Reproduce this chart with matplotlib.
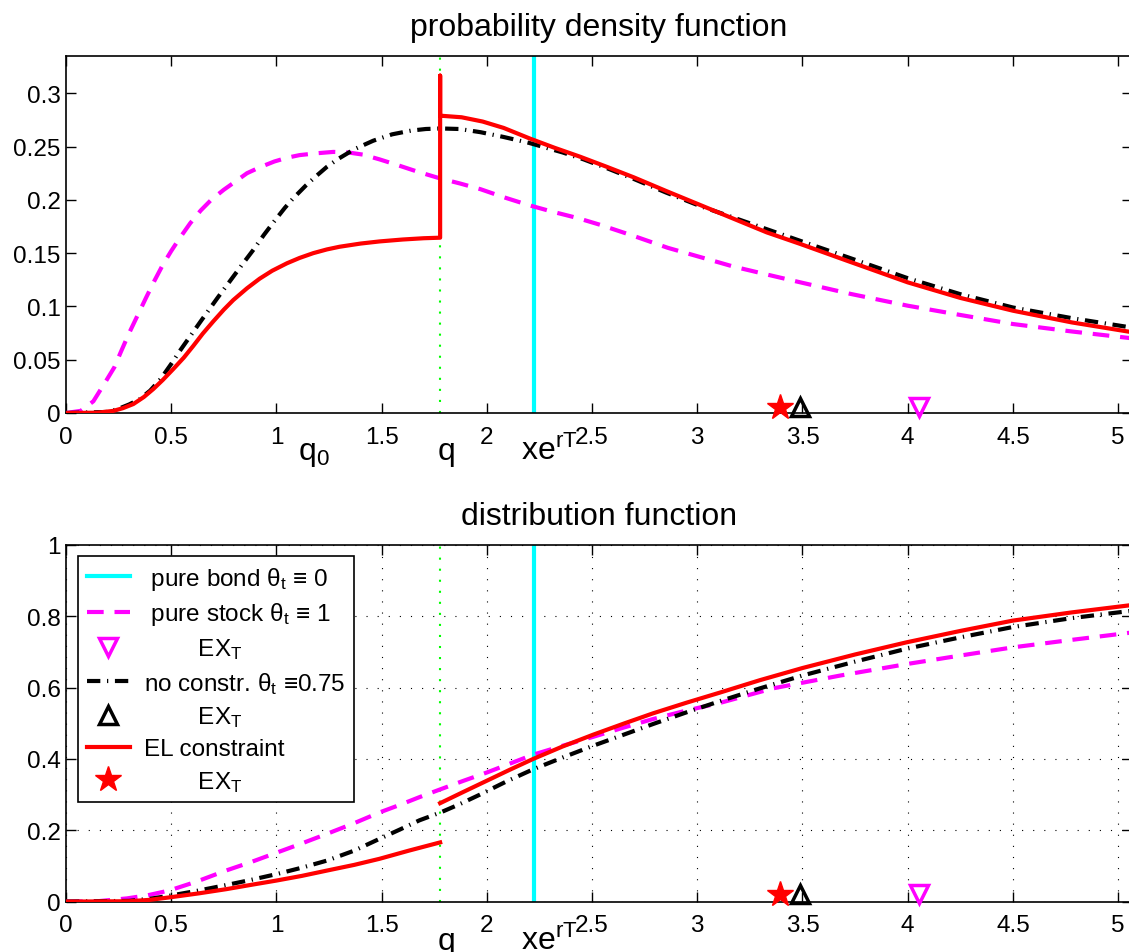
import matplotlib
matplotlib.use('Agg')
import matplotlib.pyplot as plt
from matplotlib.lines import Line2D

plt.rcParams['font.family'] = ['Liberation Sans', 'DejaVu Sans']
plt.rcParams['mathtext.fontset'] = 'custom'
plt.rcParams['mathtext.rm'] = 'Liberation Sans'
plt.rcParams['mathtext.it'] = 'Liberation Sans:italic'
plt.rcParams['mathtext.bf'] = 'Liberation Sans:bold'

# ---------------- data ----------------
q_level = 1.778          # q (green dotted)
q0_pos = 1.103           # position of q_0 label
xert = 2.225             # x e^{rT} (cyan)
ex_stock = 4.055         # E X_T pure stock
ex_noconstr = 3.49       # E X_T no constraint
ex_el = 3.393            # E X_T EL constraint

# pdf: pure stock (magenta dashed)
pdf_stock_x = [0, 0.07, 0.13, 0.19, 0.23, 0.26, 0.30, 0.34, 0.38, 0.42, 0.46, 0.50, 0.54,
               0.59, 0.64, 0.69, 0.75, 0.80, 0.86, 0.92, 0.99, 1.05, 1.11, 1.19, 1.27, 1.34,
               1.41, 1.49, 1.57, 1.67, 1.78, 1.87, 1.97, 2.08, 2.20, 2.31, 2.43, 2.54, 2.70,
               2.86, 3.02, 3.17, 3.33, 3.49, 3.73, 4.00, 4.25, 4.50, 4.78, 5.07]
pdf_stock_y = [0, 0.002, 0.011, 0.030, 0.043, 0.057, 0.075, 0.0915, 0.108, 0.124, 0.139,
               0.152, 0.164, 0.178, 0.190, 0.200, 0.2095, 0.2165, 0.225, 0.2305, 0.236,
               0.2395, 0.242, 0.2437, 0.245, 0.2445, 0.2425, 0.238, 0.233, 0.2265, 0.220,
               0.2155, 0.210, 0.2025, 0.195, 0.189, 0.183, 0.1765, 0.166, 0.155, 0.146,
               0.1375, 0.130, 0.1226, 0.1117, 0.1007, 0.092, 0.0835, 0.0765, 0.070]

# pdf: no constraint (black dash-dot)
pdf_noc_x = [0, 0.20, 0.25, 0.30, 0.35, 0.40, 0.45, 0.50, 0.54, 0.59, 0.64, 0.68, 0.72,
             0.78, 0.84, 0.89, 0.94, 0.99, 1.04, 1.08, 1.14, 1.19, 1.24, 1.29, 1.37, 1.46,
             1.55, 1.64, 1.71, 1.78, 1.87, 1.97, 2.08, 2.20, 2.36, 2.46, 2.58, 2.70, 2.85,
             3.01, 3.17, 3.33, 3.49, 3.71, 4.00, 4.25, 4.50, 4.78, 5.07]
pdf_noc_y = [0, 0.001, 0.004, 0.008, 0.013, 0.021, 0.032, 0.046, 0.058, 0.072, 0.086,
             0.097, 0.108, 0.124, 0.140, 0.153, 0.167, 0.180, 0.1925, 0.2015, 0.2135,
             0.2225, 0.231, 0.238, 0.2475, 0.2555, 0.2615, 0.265, 0.2665, 0.267, 0.2665,
             0.2635, 0.259, 0.2535, 0.2445, 0.238, 0.229, 0.2195, 0.207, 0.1945, 0.1835,
             0.1725, 0.1615, 0.1465, 0.1265, 0.1115, 0.099, 0.089, 0.080]

# pdf: EL constraint (red solid), with jump at q
pdf_el_x = [0, 0.15, 0.225, 0.27, 0.32, 0.37, 0.415, 0.46, 0.51, 0.56, 0.605, 0.65, 0.70,
            0.75, 0.795, 0.86, 0.92, 0.98, 1.05, 1.11, 1.175, 1.24, 1.30, 1.40, 1.49, 1.60,
            1.70, 1.778, 1.778, 1.778, 1.88, 1.98, 2.08, 2.205, 2.32, 2.443, 2.57, 2.70,
            2.85, 3.01, 3.17, 3.33, 3.49, 3.71, 4.00, 4.25, 4.50, 4.78, 5.07]
pdf_el_y = [0, 0.0003, 0.002, 0.0045, 0.0084, 0.015, 0.0225, 0.031, 0.0413, 0.052, 0.063,
            0.0745, 0.086, 0.097, 0.106, 0.117, 0.126, 0.1335, 0.1405, 0.1455, 0.150,
            0.1535, 0.156, 0.159, 0.161, 0.1628, 0.164, 0.1645, 0.3166, 0.279, 0.2775,
            0.2735, 0.2675, 0.2575, 0.249, 0.2405, 0.231, 0.221, 0.2085, 0.1955, 0.1825,
            0.1695, 0.1586, 0.143, 0.1226, 0.108, 0.096, 0.085, 0.0757]

# cdf: pure stock
cdf_stock_x = [0, 0.15, 0.29, 0.39, 0.49, 0.62, 0.76, 0.88, 1.00, 1.12, 1.24, 1.37, 1.49,
               1.59, 1.68, 1.78, 1.89, 2.00, 2.11, 2.22, 2.36, 2.505, 2.65, 2.79, 2.95,
               3.107, 3.36, 3.68, 3.994, 4.25, 4.50, 4.78, 5.07]
cdf_stock_y = [0, 0.001, 0.009, 0.018, 0.031, 0.056, 0.087, 0.111, 0.137, 0.163, 0.19,
               0.22, 0.25, 0.272, 0.293, 0.315, 0.339, 0.362, 0.387, 0.412, 0.437, 0.462,
               0.488, 0.512, 0.536, 0.557, 0.598, 0.634, 0.666, 0.690, 0.713, 0.734, 0.755]

# cdf: no constraint
cdf_noc_x = [0, 0.30, 0.40, 0.494, 0.63, 0.763, 0.88, 1.00, 1.12, 1.24, 1.37, 1.49, 1.59,
             1.68, 1.78, 1.87, 1.967, 2.09, 2.22, 2.36, 2.505, 2.65, 2.79, 2.95, 3.107,
             3.298, 3.50, 3.75, 3.994, 4.25, 4.50, 4.78, 5.07]
cdf_noc_y = [0, 0.002, 0.008, 0.0166, 0.031, 0.0466, 0.061, 0.077, 0.095, 0.115, 0.143,
             0.176, 0.203, 0.228, 0.25, 0.273, 0.30, 0.336, 0.371, 0.404, 0.437, 0.468,
             0.498, 0.531, 0.562, 0.598, 0.634, 0.673, 0.709, 0.741, 0.770, 0.795, 0.816]

# cdf: EL constraint, two branches (jump at q)
cdf_el_lo_x = [0, 0.30, 0.40, 0.494, 0.63, 0.763, 0.88, 1.00, 1.12, 1.24, 1.37, 1.49, 1.63,
               1.778]
cdf_el_lo_y = [0, 0.001, 0.005, 0.012, 0.023, 0.035, 0.047, 0.059, 0.072, 0.087, 0.103,
               0.12, 0.143, 0.166]
cdf_el_hi_x = [1.778, 1.89, 2.00, 2.11, 2.22, 2.36, 2.505, 2.65, 2.79, 2.95, 3.107, 3.298,
               3.50, 3.75, 3.994, 4.25, 4.50, 4.78, 5.07]
cdf_el_hi_y = [0.276, 0.308, 0.339, 0.370, 0.40, 0.435, 0.468, 0.499, 0.528, 0.558, 0.586,
               0.621, 0.655, 0.693, 0.727, 0.759, 0.788, 0.811, 0.832]

# ticks
xticks = [0, 0.5, 1, 1.5, 2, 2.5, 3, 3.5, 4, 4.5, 5]
xtick_labels = ['0', '0.5', '1', '1.5', '2', '2.5', '3', '3.5', '4', '4.5', '5']
yticks_pdf = [0, 0.05, 0.1, 0.15, 0.2, 0.25, 0.3]
ytick_labels_pdf = ['0', '0.05', '0.1', '0.15', '0.2', '0.25', '0.3']
yticks_cdf = [0, 0.2, 0.4, 0.6, 0.8, 1]
ytick_labels_cdf = ['0', '0.2', '0.4', '0.6', '0.8', '1']

titles = ['probability density function', 'distribution function']
legend_labels = [' pure bond θ$_\\mathrm{t}$ ≡ 0',
                 ' pure stock θ$_\\mathrm{t}$ ≡ 1',
                 '        EX$_\\mathrm{T}$',
                 'no constr. θ$_\\mathrm{t}$ ≡0.75',
                 '        EX$_\\mathrm{T}$',
                 'EL constraint',
                 '        EX$_\\mathrm{T}$']

# ---------------- styles ----------------
CYAN = '#00ffff'
MAG = '#ff00ff'
RED = '#ff0000'
GREEN = '#00ff00'
LW = 3.0
mag_dash = (0, (4.0, 2.6))
blk_dashdot = (0, (3.2, 1.6, 0.3, 1.6))
green_dot = (0, (1, 4.3))
FS = 17.5

W, H = 1129, 953
fig = plt.figure(figsize=(W / 100, H / 100), dpi=100)
ax_left = 66 / W
ax_w = (1132 - 66) / W
ax1 = fig.add_axes([ax_left, (H - 414) / H, ax_w, (414 - 57) / H])
ax2 = fig.add_axes([ax_left, (H - 902.6) / H, ax_w, (902.6 - 546) / H])

xmax = 5.066


def style_axes(ax, yt, ytl, ymax):
    ax.set_xlim(0, xmax)
    ax.set_ylim(0, ymax)
    ax.set_xticks(xticks)
    ax.set_xticklabels(xtick_labels)
    ax.set_yticks(yt)
    ax.set_yticklabels(ytl)
    ax.tick_params(direction='in', top=True, right=True, length=7, width=1.0,
                   labelsize=FS, color='black')
    ax.tick_params(axis='x', pad=9)
    ax.tick_params(axis='y', pad=4)
    for s in ax.spines.values():
        s.set_linewidth(1.2)
        s.set_color('black')


def markers(ax, yv):
    ax.plot([ex_stock], [yv], marker='v', ms=13, mfc='none', mec=MAG, mew=2.5,
            linestyle='none', clip_on=False, zorder=6)
    ax.plot([ex_noconstr], [yv], marker='^', ms=13, mfc='none', mec='black', mew=2.5,
            linestyle='none', clip_on=False, zorder=6)
    ax.plot([ex_el], [yv], marker='*', ms=19, mfc=RED, mec=RED, mew=1,
            linestyle='none', clip_on=False, zorder=6)


# ----- top: pdf -----
style_axes(ax1, yticks_pdf, ytick_labels_pdf, 0.335)
ax1.axvline(xert, color=CYAN, lw=LW, zorder=2)
ax1.plot(pdf_stock_x, pdf_stock_y, color=MAG, lw=LW, linestyle=mag_dash, zorder=3)
ax1.plot(pdf_noc_x, pdf_noc_y, color='black', lw=LW, linestyle=blk_dashdot, zorder=4)
ax1.plot(pdf_el_x, pdf_el_y, color=RED, lw=LW, zorder=5)
ax1.axvline(q_level, color=GREEN, lw=1.5, linestyle=green_dot, zorder=1)
markers(ax1, 0.006)
ax1.set_title(titles[0], fontsize=23, pad=15)

# ----- bottom: cdf -----
style_axes(ax2, yticks_cdf, ytick_labels_cdf, 1.0)
ax2.grid(True, color='black', lw=0.8, linestyle=(0, (1, 9)))
ax2.set_axisbelow(True)
ax2.axvline(xert, color=CYAN, lw=LW, zorder=2)
ax2.plot(cdf_stock_x, cdf_stock_y, color=MAG, lw=LW, linestyle=mag_dash, zorder=3)
ax2.plot(cdf_noc_x, cdf_noc_y, color='black', lw=LW, linestyle=blk_dashdot, zorder=4)
ax2.plot(cdf_el_lo_x, cdf_el_lo_y, color=RED, lw=LW, zorder=5)
ax2.plot(cdf_el_hi_x, cdf_el_hi_y, color=RED, lw=LW, zorder=5)
ax2.axvline(q_level, color=GREEN, lw=1.5, linestyle=green_dot, zorder=1)
markers(ax2, 0.02)
ax2.set_title(titles[1], fontsize=23, pad=15)

# ----- special x labels -----
for ax, yb in ((ax1, -0.128), (ax2, -0.134)):
    tr = ax.get_xaxis_transform()
    if ax is ax1:
        ax.text(q0_pos, yb, r'q$_\mathrm{0}$', transform=tr, fontsize=23, ha='left',
                va='baseline', clip_on=False)
    ax.text(q_level - 0.013, yb, 'q', transform=tr, fontsize=23, ha='left',
            va='baseline', clip_on=False)
    ax.text(2.16, yb, r'xe$^\mathrm{rT}$', transform=tr, fontsize=23, ha='left',
            va='baseline', clip_on=False)

# ----- legend -----
handles = [
    Line2D([], [], color=CYAN, lw=LW),
    Line2D([], [], color=MAG, lw=LW, linestyle=mag_dash),
    Line2D([], [], color=MAG, marker='v', ms=13, mfc='none', mew=2.5, linestyle='none'),
    Line2D([], [], color='black', lw=LW, linestyle=blk_dashdot),
    Line2D([], [], color='black', marker='^', ms=13, mfc='none', mew=2.5, linestyle='none'),
    Line2D([], [], color=RED, lw=LW),
    Line2D([], [], color=RED, marker='*', ms=19, linestyle='none'),
]
leg = ax2.legend(handles, legend_labels, loc='upper left', bbox_to_anchor=(0.0113, 0.969),
                 borderaxespad=0, fontsize=FS, frameon=True, fancybox=False,
                 edgecolor='black', framealpha=1, handlelength=1.8, handletextpad=0.55,
                 labelspacing=0.36, borderpad=0.35)
leg.get_frame().set_linewidth(1.2)
leg.set_zorder(10)

fig.savefig('out.png', dpi=100)
